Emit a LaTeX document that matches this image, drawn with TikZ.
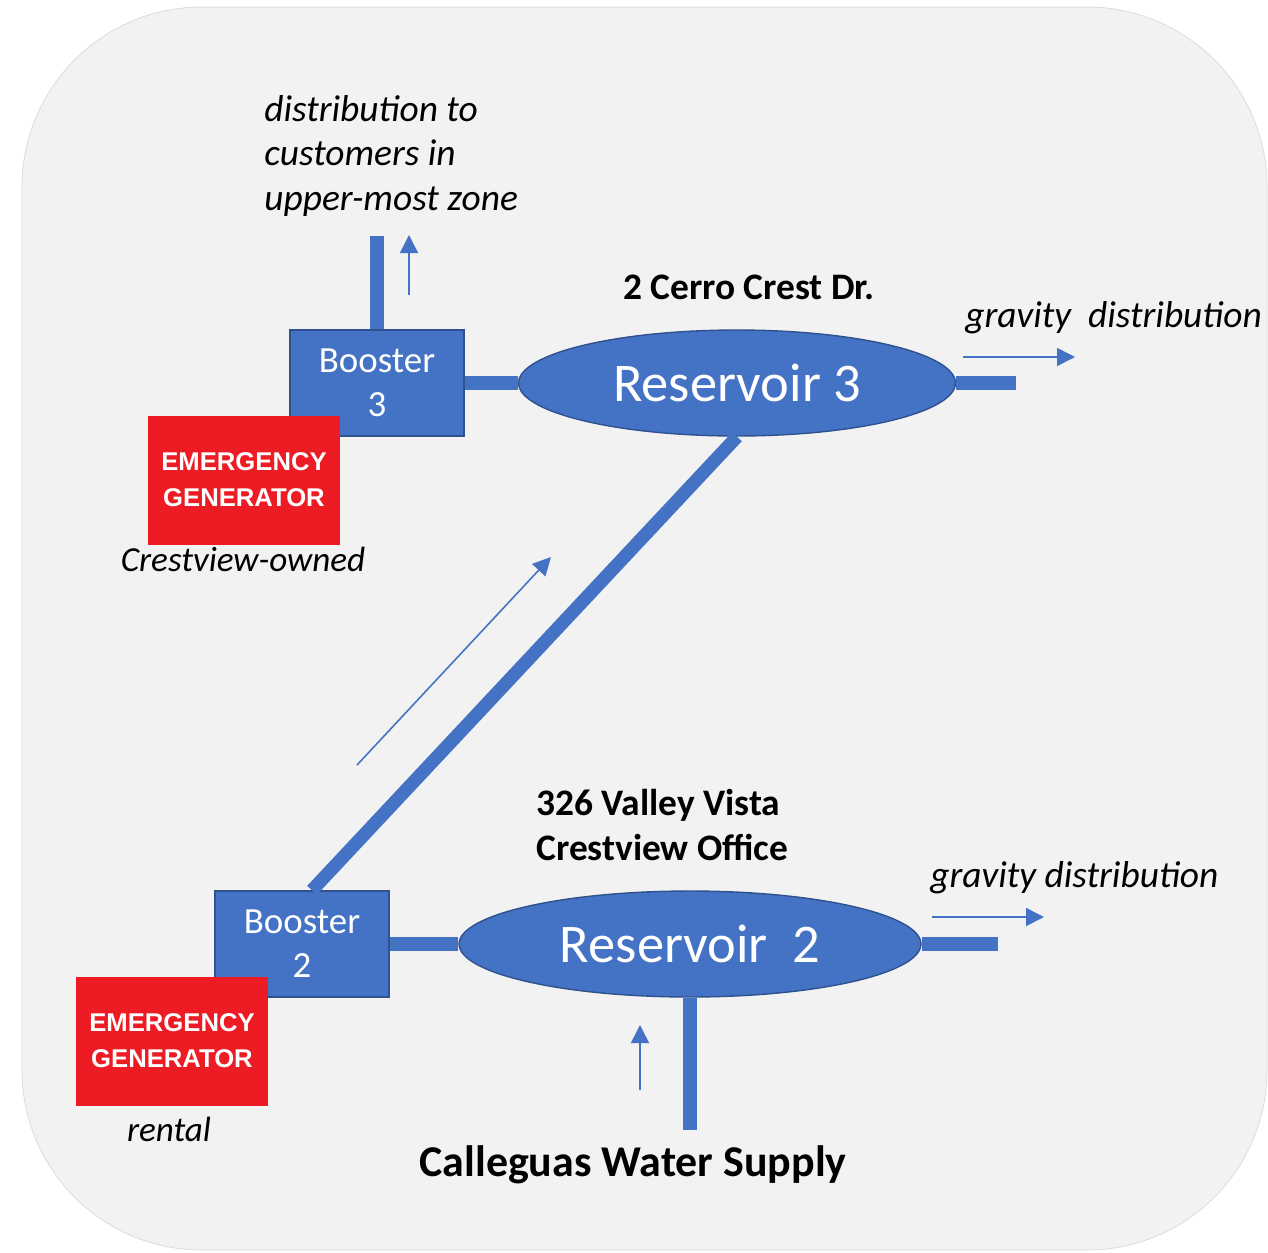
\documentclass[tikz,border=0pt]{standalone}
\usepackage{fontspec}
\setmainfont{Carlito}
\newfontfamily\genfont{Liberation Sans}
\usetikzlibrary{positioning,calc,arrows.meta,shapes.geometric}
\definecolor{pipeblue}{HTML}{4472C4}
\definecolor{edgeblue}{HTML}{2F528F}
\definecolor{genred}{HTML}{ED1C24}
\definecolor{bggray}{HTML}{F2F2F2}

\begin{document}
\begin{tikzpicture}[x=0.02cm, y=-0.02cm]
	\useasboundingbox (0,0) rectangle (1268,1252);
	\fill[bggray, draw=black!15, rounded corners=3.6cm] (22,7) rectangle (1267,1250);
	\begin{scope}
		\tikzstyle{every node}=[align=center, inner sep=0pt]
		\tikzstyle{booster}=[rectangle, fill=pipeblue, draw=edgeblue, line width=0.8pt, text=white, minimum width=3.48cm, minimum height=2.12cm, font=\fontsize{21}{25}\selectfont]
		\tikzstyle{gen}=[rectangle, fill=genred, text=white, minimum width=3.84cm, minimum height=2.58cm, font=\genfont\bfseries\fontsize{14.6}{20.4}\selectfont]
		\tikzstyle{tank}=[ellipse, fill=pipeblue, draw=edgeblue, line width=0.8pt, text=white, minimum height=2.12cm, font=\fontsize{31}{37}\selectfont]
		\tikzstyle{note}=[font=\itshape\fontsize{21.3}{25.5}\selectfont]
		\tikzstyle{owner}=[font=\itshape\fontsize{20}{24}\selectfont]
		\tikzstyle{place}=[font=\bfseries\fontsize{21.3}{25.5}\selectfont]
		\tikzstyle{pipe}=[draw=pipeblue, line width=7.5pt]
		\tikzstyle{flow}=[draw=pipeblue, line width=0.9pt, -{Triangle[length=0.36cm, width=0.36cm]}]

		\node[booster] (b3) at (377, 383) {Booster\\3};
		\node[booster] (b2) at (302, 944) {Booster\\2};
		\node[gen] (g3) at (244, 480) {EMERGENCY\\GENERATOR};
		\node[gen] (g2) at (172, 1041) {EMERGENCY\\GENERATOR};
		\node[tank, minimum width=8.74cm] (r3) at (737, 383) {Reservoir 3};
		\node[tank, minimum width=9.24cm] (r2) at (690, 944) {Reservoir\ \ 2};

		\node[note, anchor=west, align=left] (zone) at (264, 156) {distribution to\\customers in\\upper-most zone};
		\node[place, anchor=base] (addr3) at (749, 299) {2 Cerro Crest Dr.};
		\node[note, anchor=base west] (grav3) at (965, 327) {gravity\ \ distribution};
		\node[owner, anchor=base] (own3) at (243, 571) {Crestview-owned};
		\node[place, anchor=west, align=left] (addr2) at (536, 825) {326 Valley Vista\\Crestview Office};
		\node[note, anchor=base west] (grav2) at (930, 887) {gravity distribution};
		\node[owner, anchor=base] (own2) at (169, 1141) {rental};
		\node[place, anchor=base, font=\bfseries\fontsize{25}{30}\selectfont] (supply) at (633, 1176) {Calleguas Water Supply};

		\coordinate (zonetop) at (378, 236);
		\coordinate (out3) at (1016, 383);
		\coordinate (out2) at (998, 944);
		\coordinate (intake) at (690, 1130);

		\draw[pipe] (b3.north) -- (b3.north |- zonetop);
		\draw[pipe] (b3.east) -- (r3.west);
		\draw[pipe] (r3.east) -- (out3);
		\draw[pipe] (r3.south) -- ([xshift=0.2cm]b2.north);
		\draw[pipe] (b2.east) -- (r2.west);
		\draw[pipe] (r2.east) -- (out2);
		\draw[pipe] (r2.south) -- (intake);

		\coordinate (up3a) at (409, 295);
		\coordinate (up3b) at (409, 235);
		\coordinate (grav3a) at (963, 357);
		\coordinate (grav3b) at (1075, 357);
		\coordinate (risea) at (357, 765);
		\coordinate (riseb) at (551, 557);
		\coordinate (grav2a) at (932, 917);
		\coordinate (grav2b) at (1044, 917);
		\coordinate (up2a) at (640, 1090);
		\coordinate (up2b) at (640, 1025);

		\draw[flow] (up3a) -- (up3b);
		\draw[flow] (grav3a) -- (grav3b);
		\draw[flow] (risea) -- (riseb);
		\draw[flow] (grav2a) -- (grav2b);
		\draw[flow] (up2a) -- (up2b);

	\end{scope}
\end{tikzpicture}
\end{document}
